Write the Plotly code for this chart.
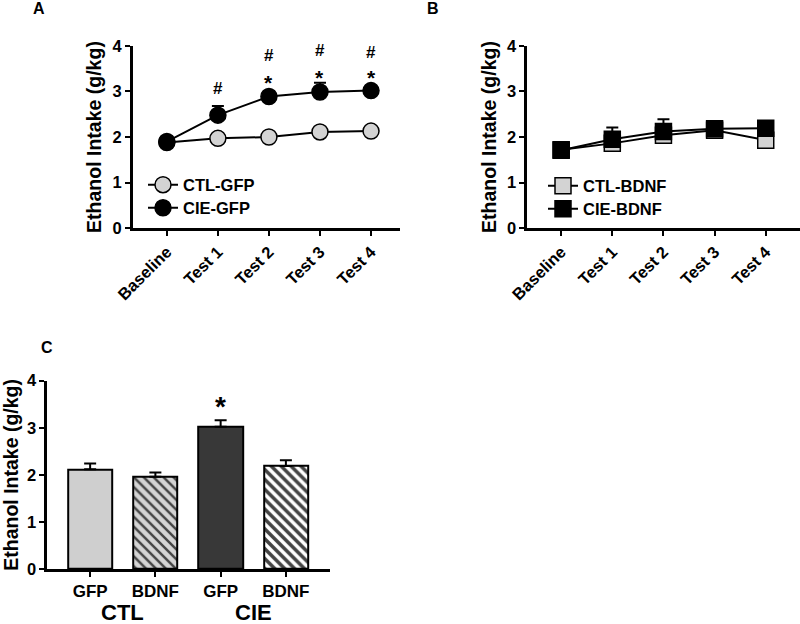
import plotly.graph_objects as go

# ---------------- data ----------------
sessions = ["Baseline", "Test 1", "Test 2", "Test 3", "Test 4"]

ctl_gfp = [1.88, 1.97, 2.00, 2.11, 2.13]
ctl_gfp_err = [0.07, 0.07, 0.07, 0.08, 0.08]
cie_gfp = [1.90, 2.48, 2.89, 2.99, 3.02]
cie_gfp_err = [0.08, 0.20, 0.10, 0.20, 0.10]

ctl_bdnf = [1.72, 1.86, 2.04, 2.15, 1.93]
ctl_bdnf_err = [0.08, 0.10, 0.10, 0.08, 0.08]
cie_bdnf = [1.71, 1.95, 2.12, 2.18, 2.19]
cie_bdnf_err = [0.10, 0.26, 0.27, 0.15, 0.10]

bar_labels = ["GFP", "BDNF", "GFP", "BDNF"]
bar_groups = ["CTL", "CIE"]
bar_values = [2.12, 1.96, 3.02, 2.19]
bar_err = [0.12, 0.09, 0.14, 0.12]

# significance marks for panel A: (session index, text, y)
sig_a = [(1, "#", 3.07), (2, "#", 3.80), (2, "*", 3.20), (3, "#", 3.91),
         (3, "*", 3.30), (4, "#", 3.85), (4, "*", 3.30)]

FONT = "Liberation Sans, Arial, sans-serif"
xi = list(range(len(sessions)))

fig = go.Figure()

def errs(e):
    return dict(type="data", array=e, arrayminus=[0] * len(e), symmetric=False,
                color="black", thickness=2, width=6)

# Panel A
fig.add_trace(go.Scatter(x=xi, y=ctl_gfp, name="CTL-GFP", mode="lines+markers",
                         line=dict(color="black", width=2),
                         marker=dict(symbol="circle", size=16, color="#d3d3d3",
                                     line=dict(color="black", width=1.5)),
                         error_y=errs(ctl_gfp_err), xaxis="x", yaxis="y", legend="legend"))
fig.add_trace(go.Scatter(x=xi, y=cie_gfp, name="CIE-GFP", mode="lines+markers",
                         line=dict(color="black", width=2),
                         marker=dict(symbol="circle", size=16, color="black",
                                     line=dict(color="black", width=1.5)),
                         error_y=errs(cie_gfp_err), xaxis="x", yaxis="y", legend="legend2"))
# Panel B
fig.add_trace(go.Scatter(x=xi, y=ctl_bdnf, name="CTL-BDNF", mode="lines+markers",
                         line=dict(color="black", width=2),
                         marker=dict(symbol="square", size=16, color="#d3d3d3",
                                     line=dict(color="black", width=1.5)),
                         error_y=errs(ctl_bdnf_err), xaxis="x2", yaxis="y2", legend="legend3"))
fig.add_trace(go.Scatter(x=xi, y=cie_bdnf, name="CIE-BDNF", mode="lines+markers",
                         line=dict(color="black", width=2),
                         marker=dict(symbol="square", size=16, color="black",
                                     line=dict(color="black", width=1.5)),
                         error_y=errs(cie_bdnf_err), xaxis="x2", yaxis="y2", legend="legend4"))

# Panel C
bar_fill = ["#cfcfcf", "#d4d4d4", "#383838", "white"]
bar_shape = ["", "\\", "", "\\"]
bar_solid = [0.3, 0.35, 0.3, 0.5]
fig.add_trace(go.Bar(x=list(range(len(bar_values))), y=bar_values, width=0.68,
                     marker=dict(color=bar_fill, line=dict(color="black", width=2),
                                 pattern=dict(shape=bar_shape, fgcolor="black", fgopacity=1,
                                              bgcolor=bar_fill, size=7, solidity=bar_solid)),
                     error_y=errs(bar_err), showlegend=False, xaxis="x3", yaxis="y3"))

axis_common = dict(showline=True, linecolor="black", linewidth=2.5, ticks="outside",
                   ticklen=5, tickwidth=2, tickcolor="black", showgrid=False, automargin=False,
                   zeroline=False, tickfont=dict(size=16.5, family=FONT, color="black", weight="bold"))
ytitle = dict(text="Ethanol Intake (g/kg)", font=dict(size=19.5, family=FONT, color="black", weight="bold"),
              standoff=6)

legend_font = dict(size=16.5, family=FONT, color="black", weight="bold")

def leg(xpx, ypx):
    return dict(x=xpx / 800, y=1 - ypx / 624, xanchor="left", yanchor="middle",
                bgcolor="rgba(0,0,0,0)", font=legend_font)

fig.update_layout(
    width=800, height=624, margin=dict(l=0, r=0, t=0, b=0, autoexpand=False),
    plot_bgcolor="white", paper_bgcolor="white",
    font=dict(family=FONT, color="black"),
    xaxis=dict(domain=[0.166, 0.5], range=[-0.667, 4.568], tickvals=xi, ticktext=sessions,
               tickangle=-45, anchor="y", **axis_common),
    yaxis=dict(domain=[0.6346, 0.9263], range=[0, 4], dtick=1, anchor="x",
               title=ytitle, **axis_common),
    xaxis2=dict(domain=[0.659, 1.0], range=[-0.664, 4.67], tickvals=xi, ticktext=sessions,
                tickangle=-45, anchor="y2", **axis_common),
    yaxis2=dict(domain=[0.6346, 0.9263], range=[0, 4], dtick=1, anchor="x2",
                title=ytitle, **axis_common),
    xaxis3=dict(domain=[0.059, 0.4125], range=[-0.658, 3.676], tickvals=list(range(4)),
                ticktext=bar_labels, anchor="y3",
                **{**axis_common, "tickfont": dict(size=17, family=FONT, color="black", weight="bold")}),
    yaxis3=dict(domain=[0.088, 0.39], range=[0, 4], dtick=1, anchor="x3",
                title=ytitle, **axis_common),
    legend=leg(143, 185),
    legend2=leg(143, 208),
    legend3=leg(543, 186),
    legend4=leg(543, 209),
    bargap=0,
)

annotations = []
for i, t, yv in sig_a:
    annotations.append(dict(x=i, y=yv, xref="x", yref="y", text=t, showarrow=False,
                            font=dict(size=17 if t == "#" else 21, family=FONT,
                                      color="black", weight="bold")))
annotations.append(dict(x=2, y=3.45, xref="x3", yref="y3", text="*", showarrow=False,
                        font=dict(size=28, family=FONT, color="black", weight="bold")))
for gi, g in enumerate(bar_groups):
    annotations.append(dict(x=gi * 2 + 0.5, y=1 - 612 / 624, xref="x3", yref="paper", text=g,
                            showarrow=False, yanchor="middle",
                            font=dict(size=22, family=FONT, color="black", weight="bold")))
for lbl, px, py in [("A", 39, 9), ("B", 433, 9), ("C", 47, 347)]:
    annotations.append(dict(x=px / 800, y=1 - py / 624, xref="paper", yref="paper", text=lbl,
                            showarrow=False, xanchor="center", yanchor="middle",
                            font=dict(size=16, family=FONT, color="black", weight="bold")))
fig.update_layout(annotations=annotations)

fig.write_html("out.html", config={"displayModeBar": False},
               post_script="document.body.style.margin='0px';")
